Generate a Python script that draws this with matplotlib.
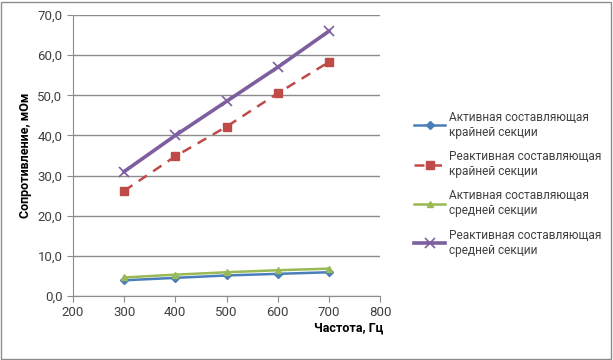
import matplotlib.pyplot as plt
from matplotlib.patches import Rectangle

plt.rcParams['font.family'] = ['Roboto', 'DejaVu Sans']

freq = [300, 400, 500, 600, 700]
act_edge = [3.9, 4.5, 5.1, 5.5, 5.9]
react_edge = [26.2, 34.8, 42.2, 50.5, 58.3]
act_mid = [4.6, 5.3, 5.9, 6.4, 6.8]
react_mid = [31.0, 40.0, 48.5, 57.0, 66.0]

labels = ['Активная составляющая\nкрайней секции',
          'Реактивная составляющая\nкрайней секции',
          'Активная составляющая\nсредней секции',
          'Реактивная составляющая\nсредней секции']

fig = plt.figure(figsize=(6.13, 3.6), dpi=100)
ax = fig.add_axes([0.119, 0.178, 0.501, 0.78])

ax.plot(freq, act_edge, color='#4a7ebb', lw=1.8, marker='D', ms=4, label=labels[0])
ax.plot(freq, react_edge, color='#be4b48', lw=1.8, ls=(0, (4, 3)), marker='s', ms=6, label=labels[1])
ax.plot(freq, act_mid, color='#98b954', lw=1.8, marker='^', ms=4, label=labels[2])
ax.plot(freq, react_mid, color='#7d5fa0', lw=2.6, marker='x', ms=7, mew=1.2, label=labels[3])

ax.set_xlim(200, 800)
ax.set_ylim(0, 70)
ax.set_xticks(range(200, 801, 100))
ax.set_yticks(range(0, 71, 10))
ax.set_yticklabels([f'{v},0' for v in range(0, 71, 10)])
ax.yaxis.grid(True, color='#8c8c8c', lw=1)
ax.set_axisbelow(True)
for s in ['top', 'right']:
    ax.spines[s].set_visible(False)
for s in ['left', 'bottom']:
    ax.spines[s].set_color('#8c8c8c')
ax.tick_params(colors='#8c8c8c', labelcolor='#404040', labelsize=9.5, length=4)

ax.set_ylabel('Сопротивление, мОм', fontsize=9, fontweight='bold', color='black')
fig.text(0.625, 0.088, 'Частота, Гц', fontsize=9, fontweight='bold', ha='right', va='center')

leg = fig.legend(loc='center left', bbox_to_anchor=(0.658, 0.49), frameon=False,
                 fontsize=8.6, labelspacing=0.95, handlelength=2.6, handletextpad=0.3)
for t in leg.get_texts():
    t.set_color('#404040')

fig.patches.append(Rectangle((0.002, 0.004), 0.994, 0.99, transform=fig.transFigure,
                             fill=False, ec='#8c8c8c', lw=1))

fig.savefig('out.png', dpi=100)
